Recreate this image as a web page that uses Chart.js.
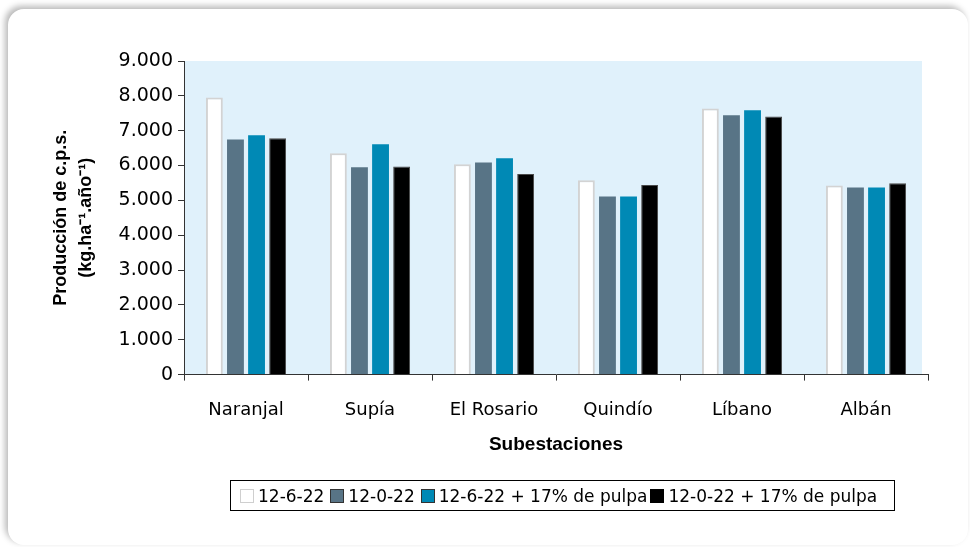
<!DOCTYPE html>
<html lang="es">
<head>
<meta charset="utf-8">
<title>Producción de c.p.s. por subestación</title>
<script src="https://cdn.jsdelivr.net/npm/chart.js@4/dist/chart.umd.min.js"></script>
<style>
  html, body { margin: 0; padding: 0; background: #ffffff; }
  body { width: 970px; height: 547px; position: relative; overflow: hidden; }
  .card {
    position: absolute; left: 8px; top: 9px; width: 960px; height: 536px;
    background: #ffffff; border-radius: 16px;
    box-shadow: -3px -3px 6px rgba(0, 0, 0, 0.28);
  }
  #wrap { position: absolute; left: 0; top: 0; width: 970px; height: 547px; }
  .legend {
    position: absolute; left: 230px; top: 480px; width: 654px; height: 29px;
    border: 1px solid #000; box-sizing: content-box;
    display: flex; align-items: center; padding-left: 9px;
    font-family: "DejaVu Sans", sans-serif; font-size: 17px; color: #000;
    white-space: nowrap;
  }
  .legend .item { display: flex; align-items: center; margin-right: 6px; }
  .legend .item:nth-child(3) { margin-right: 3px; }
  .legend .sw { width: 14px; height: 14px; margin-right: 4px; box-sizing: border-box; }
</style>
</head>
<body>
<div class="card"></div>
<div id="wrap"><canvas id="chart" width="970" height="547"></canvas></div>
<div class="legend" id="legend"></div>
<script>
// Subestaciones y producción de café pergamino seco (kg/ha/año) por tratamiento
const categories = ['Naranjal', 'Supía', 'El Rosario', 'Quindío', 'Líbano', 'Albán'];
const seriesNames = ['12-6-22', '12-0-22', '12-6-22 + 17% de pulpa', '12-0-22 + 17% de pulpa'];
const serie126 = [7950, 6350, 6040, 5580, 7640, 5430];
const serie120 = [6750, 5950, 6090, 5110, 7440, 5370];
const serie126Pulpa = [6870, 6610, 6210, 5110, 7590, 5370];
const serie120Pulpa = [6780, 5970, 5760, 5440, 7410, 5490];
const yTicks = [0, 1000, 2000, 3000, 4000, 5000, 6000, 7000, 8000, 9000];

const fills = ['#ffffff', '#587486', '#0089b5', '#000000'];
const borders = ['#d3d3d3', '#587486', '#0089b5', '#4a4a4a'];
const borderWidths = [2, 0, 0, 1];
const values = [serie126, serie120, serie126Pulpa, serie120Pulpa];

// Thousands with a dot, as written in Spanish
const fmt = v => v === 0 ? '0' : String(v).replace(/\B(?=(\d{3})+(?!\d))/g, '.');

// Light blue fill behind the bars
const plotBackground = {
  id: 'plotBackground',
  beforeDraw(chart) {
    const { ctx, chartArea: a } = chart;
    ctx.save();
    ctx.fillStyle = '#e0f1fb';
    ctx.fillRect(a.left, a.top, a.right - a.left - 6, a.bottom - a.top);
    ctx.restore();
  }
};

const TXT = '"DejaVu Sans", sans-serif';
const BOLD = '"Liberation Sans", Arial, sans-serif';

new Chart(document.getElementById('chart'), {
  type: 'bar',
  data: {
    labels: categories,
    datasets: seriesNames.map((name, i) => ({
      label: name,
      data: values[i],
      backgroundColor: fills[i],
      borderColor: borders[i],
      borderWidth: borderWidths[i],
      borderSkipped: 'bottom',
      categoryPercentage: 0.68,
      barPercentage: 0.8
    }))
  },
  options: {
    responsive: false,
    animation: false,
    devicePixelRatio: 1,
    layout: { padding: { left: 40, right: 42, top: 61, bottom: 91 } },
    plugins: { legend: { display: false }, tooltip: { enabled: false } },
    scales: {
      x: {
        offset: true,
        grid: { display: true, drawOnChartArea: false, drawTicks: true, tickLength: 6, offset: true, color: '#333', lineWidth: 1 },
        border: { display: true, color: '#333', width: 1 },
        ticks: { color: '#000', font: { family: TXT, size: 18 }, padding: 19, maxRotation: 0 },
        title: {
          display: true, text: 'Subestaciones', color: '#000',
          font: { family: BOLD, size: 19, weight: 'bold' }, padding: { top: -7, bottom: 0 }
        }
      },
      y: {
        min: 0, max: 9000,
        afterBuildTicks(scale) { scale.ticks = yTicks.map(v => ({ value: v })); },
        afterFit(scale) { scale.width = 144; },
        grid: { display: true, drawOnChartArea: false, drawTicks: true, tickLength: 6, color: '#333', lineWidth: 1 },
        border: { display: true, color: '#333', width: 1 },
        ticks: { color: '#000', font: { family: TXT, size: 19 }, padding: 5, callback: v => fmt(v) },
        title: {
          display: true, text: ['Producción de c.p.s.', '(kg.ha⁻¹.año⁻¹)'], color: '#000',
          font: { family: BOLD, size: 18, weight: 'bold', lineHeight: 1.4 }, padding: { top: 8, bottom: 0 }
        }
      }
    }
  },
  plugins: [plotBackground]
});

// Legend built from the same series names and colours
const legend = document.getElementById('legend');
seriesNames.forEach((name, i) => {
  const item = document.createElement('span');
  item.className = 'item';
  const sw = document.createElement('span');
  sw.className = 'sw';
  sw.style.background = fills[i];
  sw.style.border = '1px solid ' + (i === 0 ? '#cfcfcf' : (i === 3 ? '#000' : '#333'));
  const t = document.createElement('span');
  t.textContent = name;
  item.appendChild(sw);
  item.appendChild(t);
  legend.appendChild(item);
});
</script>
</body>
</html>
